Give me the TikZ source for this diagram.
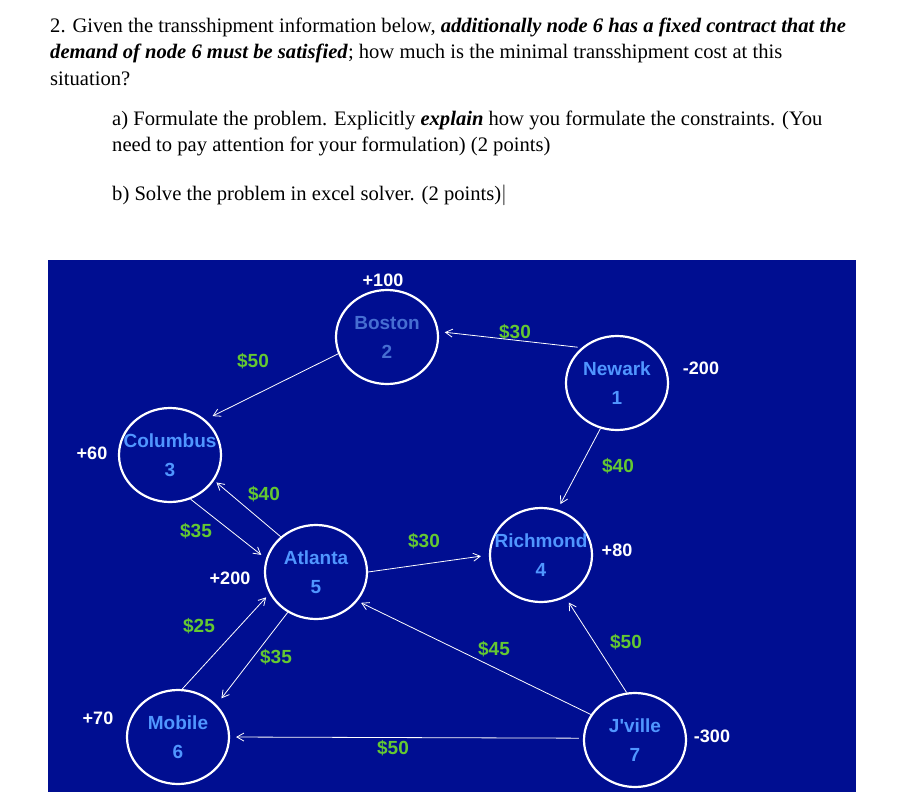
\documentclass[tikz,border=0pt]{standalone}
\usepackage{fontspec}
\setmainfont{Liberation Serif}
\newfontfamily\arial{Liberation Sans}
\usetikzlibrary{shapes.geometric,arrows.meta}
\definecolor{bgblue}{RGB}{0,14,145}
\definecolor{nblue}{RGB}{80,150,255}
\definecolor{dblue}{RGB}{70,110,210}
\definecolor{cgreen}{RGB}{100,200,50}
\begin{document}
\begin{tikzpicture}[x=1pt,y=-1pt,
  city/.style={ellipse,draw=white,line width=2.2pt,minimum width=102pt,minimum height=94pt,inner xsep=-30pt,inner ysep=0pt,align=center,text=nblue,font=\arial\bfseries\fontsize{19}{29}\selectfont},
  cost/.style={text=cgreen,font=\arial\bfseries\fontsize{19}{22}\selectfont},
  supply/.style={text=white,font=\arial\bfseries\fontsize{18}{22}\selectfont},
  flow/.style={draw=white,line width=0.8pt,-{Straight Barb[length=7pt,width=8pt]}},
  txt/.style={anchor=west,inner sep=0pt,font=\fontsize{20.6}{24}\selectfont}]
\useasboundingbox[fill=white] (0,0) rectangle (916,792);
\fill[bgblue] (48,260) rectangle (856,792);
\node[txt] (l1) at (50,27) {2. Given the transshipment information below, \textbf{\textit{additionally node 6 has a fixed contract that the}}};
\node[txt] (l2) at (50,53) {\textbf{\textit{demand of node 6 must be satisfied}}; how much is the minimal transshipment cost at this};
\node[txt] (l3) at (50,79) {situation?};
\node[txt] (l4) at (112,120) {a) Formulate the problem. Explicitly \textbf{\textit{explain}} how you formulate the constraints. (You};
\node[txt] (l5) at (112,146) {need to pay attention for your formulation) (2 points)};
\node[txt] (l6) at (112,195) {b) Solve the problem in excel solver. (2 points)$|$};

\node[city,text=dblue] (bos) at (387,337) {Boston\\2};
\node[city] (new) at (617,383) {Newark\\1};
\node[city] (col) at (170,455) {Columbus\\3};
\node[city] (ric) at (541,555) {Richmond\\4};
\node[city] (atl) at (316,572) {Atlanta\\5};
\node[city] (mob) at (178,737) {Mobile\\6};
\node[city] (jvi) at (635,740) {J'ville\\7};

\node[supply] (s2) at (383,280) {+100};
\node[supply] (s1) at (701,368) {-200};
\node[supply] (s3) at (92,453) {+60};
\node[supply] (s4) at (617,550) {+80};
\node[supply] (s5) at (230,578) {+200};
\node[supply] (s6) at (98,718) {+70};
\node[supply] (s7) at (712,736) {-300};

\node[cost] (c1) at (253,361) {\$50};
\node[cost] (c2) at (515,332) {\$30};
\node[cost] (c3) at (618,466) {\$40};
\node[cost] (c4) at (264,494) {\$40};
\node[cost] (c5) at (196,531) {\$35};
\node[cost] (c6) at (424,541) {\$30};
\node[cost] (c7) at (199,626) {\$25};
\node[cost] (c8) at (276,657) {\$35};
\node[cost] (c9) at (494,649) {\$45};
\node[cost] (c10) at (626,642) {\$50};
\node[cost] (c11) at (393,748) {\$50};

\draw[flow,shorten >=8pt] (bos.199) -- (col.45);
\draw[flow,shorten <=4pt,shorten >=6pt] (new.135) -- (bos.6);
\draw[flow,shorten >=6pt] (new.-110) -- (ric.70);
\draw[flow,shorten >=3pt] (atl.135) -- (col.-30);
\draw[flow,shorten >=6pt] (col.-65) -- (atl.165);
\draw[flow,shorten >=8pt] (atl.0) -- (ric.180);
\draw[flow,shorten >=5pt] (mob.85) -- (atl.-155);
\draw[flow,shorten >=8pt] (atl.-125) -- (mob.40);
\draw[flow,shorten >=4pt] (jvi.150) -- (atl.-35);
\draw[flow,shorten >=6pt] (jvi.100) -- (ric.-60);
\draw[flow,shorten <=4pt,shorten >=6pt] (jvi.178) -- (mob.0);
\end{tikzpicture}
\end{document}
